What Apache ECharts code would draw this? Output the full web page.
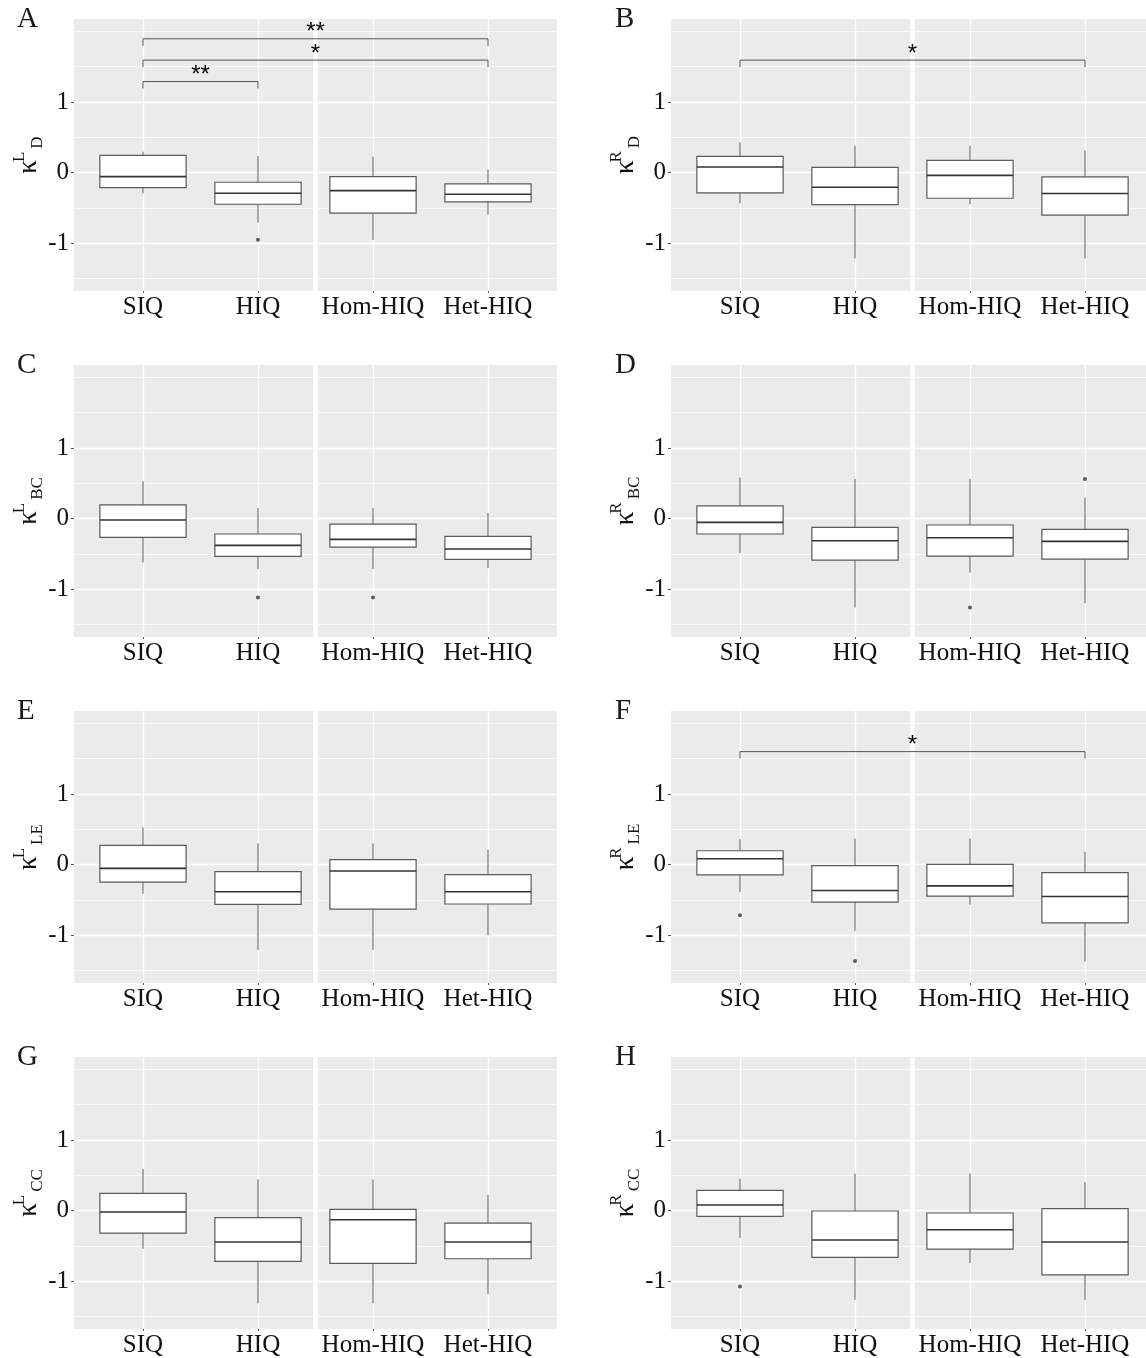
<!DOCTYPE html>
<html><head><meta charset="utf-8">
<script src="https://cdn.jsdelivr.net/npm/echarts@6/dist/echarts.min.js"></script>
<style>html,body{margin:0;padding:0;background:#fff;overflow:hidden}#c{width:1160px;height:1358px}</style>
</head><body><div id="c"></div><script>
// ---------------- data ----------------
const categories = ['SIQ', 'HIQ', 'Hom-HIQ', 'Het-HIQ'];
const yTicks = [-1, 0, 1];
const yMinorTicks = [-1.5, -0.5, 0.5, 1.5, 2];
const yRange = [-1.675, 2.175];
const panelLetters = ['A', 'B', 'C', 'D', 'E', 'F', 'G', 'H'];
const titleSup = ['L', 'R', 'L', 'R', 'L', 'R', 'L', 'R'];
const titleSub = ['D', 'D', 'BC', 'BC', 'LE', 'LE', 'CC', 'CC'];

// box stats per category: [lower whisker, Q1, median, Q3, upper whisker]
const boxA = [[-0.292, -0.212, -0.056, 0.245, 0.296], [-0.706, -0.447, -0.292, -0.136, 0.235], [-0.951, -0.574, -0.254, -0.056, 0.226], [-0.593, -0.414, -0.306, -0.160, 0.047]];
const boxB = [[-0.433, -0.287, 0.080, 0.231, 0.428], [-1.214, -0.452, -0.207, 0.075, 0.381], [-0.447, -0.362, -0.038, 0.174, 0.381], [-1.214, -0.602, -0.296, -0.061, 0.315]];
const boxC = [[-0.620, -0.265, -0.019, 0.194, 0.530], [-0.714, -0.534, -0.378, -0.217, 0.151], [-0.714, -0.402, -0.293, -0.076, 0.151], [-0.700, -0.577, -0.430, -0.250, 0.080]];
const boxD = [[-0.487, -0.217, -0.052, 0.180, 0.582], [-1.257, -0.586, -0.312, -0.123, 0.563], [-0.762, -0.530, -0.270, -0.090, 0.563], [-1.196, -0.572, -0.321, -0.151, 0.298]];
const boxE = [[-0.412, -0.248, -0.052, 0.272, 0.525], [-1.208, -0.562, -0.384, -0.098, 0.300], [-1.208, -0.628, -0.089, 0.070, 0.300], [-0.998, -0.557, -0.384, -0.140, 0.211]];
const boxF = [[-0.389, -0.145, 0.084, 0.197, 0.361], [-0.937, -0.529, -0.365, -0.014, 0.370], [-0.567, -0.445, -0.300, 0.005, 0.370], [-1.372, -0.824, -0.450, -0.112, 0.183]];
const boxG = [[-0.539, -0.317, -0.019, 0.246, 0.591], [-1.310, -0.719, -0.444, -0.099, 0.440], [-1.310, -0.747, -0.128, 0.019, 0.440], [-1.177, -0.681, -0.444, -0.175, 0.222]];
const boxH = [[-0.388, -0.080, 0.080, 0.288, 0.454], [-1.262, -0.662, -0.416, -0.005, 0.525], [-0.742, -0.544, -0.270, -0.033, 0.525], [-1.262, -0.908, -0.444, 0.028, 0.402]];

// outliers: [category number (1-based), value]
const outA = [[2, -0.951]];
const outB = [];
const outC = [[2, -1.116], [3, -1.116]];
const outD = [[3, -1.257], [4, 0.563]];
const outE = [];
const outF = [[1, -0.717], [2, -1.363]];
const outG = [];
const outH = [[1, -1.073]];

// significance brackets: [from category, to category, height, label]
const sigA = [[1, 4, 1.895, '**'], [1, 4, 1.593, '*'], [1, 2, 1.29, '**']];
const sigB = [[1, 4, 1.593, '*']];
const sigF = [[1, 4, 1.60, '*']];

const separatorAt = 2.5;

// ---------------- layout ----------------
const boxes = [boxA, boxB, boxC, boxD, boxE, boxF, boxG, boxH];
const outliers = [outA, outB, outC, outD, outE, outF, outG, outH];
const sigs = [sigA, sigB, [], [], [], sigF, [], []];

const colLeft = [74, 671];
const rowTop = [19, 365, 711, 1057];
const gridW = 483, gridH = 272;
const serif = '"Liberation Serif", "Times New Roman", serif';
const catPos = categories.map((c, i) => i + 1);

const mctx = document.createElement('canvas').getContext('2d');
function tw(t, f) { mctx.font = f; return mctx.measureText(t).width; }

const grids = [], xAxes = [], yAxes = [], series = [], graphics = [];

function renderBox(params, api) {
  const x = api.value(0);
  const lo = api.coord([x, api.value(1)]);
  const q1 = api.coord([x, api.value(2)]);
  const md = api.coord([x, api.value(3)]);
  const q3 = api.coord([x, api.value(4)]);
  const hi = api.coord([x, api.value(5)]);
  const w = api.size([0.75, 0])[0];
  const c = '#5a5a5a';
  return {
    type: 'group', children: [
      { type: 'line', shape: { x1: hi[0], y1: hi[1], x2: q3[0], y2: q3[1] }, style: { stroke: c, lineWidth: 1 } },
      { type: 'line', shape: { x1: q1[0], y1: q1[1], x2: lo[0], y2: lo[1] }, style: { stroke: c, lineWidth: 1 } },
      { type: 'rect', shape: { x: q3[0] - w / 2, y: q3[1], width: w, height: q1[1] - q3[1] }, style: { fill: '#ffffff', stroke: c, lineWidth: 1.2 } },
      { type: 'line', shape: { x1: md[0] - w / 2, y1: md[1], x2: md[0] + w / 2, y2: md[1] }, style: { stroke: '#333333', lineWidth: 1.6 } }
    ]
  };
}

function makeBracketRenderer(list) {
  return function (params, api) {
    const item = list[params.dataIndex];
    const a = api.coord([api.value(0), api.value(2)]);
    const b = api.coord([api.value(1), api.value(2)]);
    const tip = 7;
    return {
      type: 'group', children: [
        { type: 'polyline', shape: { points: [[a[0], a[1] + tip], [a[0], a[1]], [b[0], b[1]], [b[0], b[1] + tip]] }, style: { stroke: '#555555', lineWidth: 1, fill: null } },
        { type: 'text', x: (a[0] + b[0]) / 2, y: a[1] - 6, style: { text: item[3], font: '24px "Liberation Sans", Arial, sans-serif', fill: '#000', align: 'center', verticalAlign: 'middle', textAlign: 'center', textVerticalAlign: 'middle' } }
      ]
    };
  };
}

for (let i = 0; i < 8; i++) {
  const col = i % 2, row = Math.floor(i / 2);
  const gl = colLeft[col], gt = rowTop[row];
  grids.push({ left: gl, top: gt, width: gridW, height: gridH, show: true, backgroundColor: '#EBEBEB', borderWidth: 0, outerBoundsMode: 'none', containLabel: false });
  xAxes.push({
    gridIndex: i, type: 'value', min: 0.4, max: 4.6, position: 'bottom',
    axisLine: { show: false, onZero: false },
    axisTick: { show: true, length: 2, customValues: catPos, lineStyle: { color: '#555', width: 1 } },
    axisLabel: { customValues: catPos, formatter: v => categories[Math.round(v) - 1], fontFamily: serif, fontSize: 25, color: '#111', margin: 4 },
    splitLine: { show: true, lineStyle: { color: '#ffffff', width: 1.3 } }
  });
  yAxes.push({
    gridIndex: i, type: 'value', min: yRange[0], max: yRange[1], position: 'left',
    axisLine: { show: false, onZero: false },
    axisTick: { show: true, length: 3, customValues: yTicks, lineStyle: { color: '#555', width: 1 } },
    axisLabel: { customValues: yTicks, formatter: v => String(v), fontFamily: serif, fontSize: 25, color: '#111', margin: 5 },
    splitLine: { show: true, lineStyle: { color: '#ffffff', width: 1.3 } }
  });
  yAxes.push({
    gridIndex: i, type: 'value', min: yRange[0], max: yRange[1], position: 'right',
    axisLine: { show: false, onZero: false },
    axisTick: { show: false, customValues: yMinorTicks },
    axisLabel: { show: false, customValues: yMinorTicks },
    splitLine: { show: true, lineStyle: { color: '#ffffff', width: 0.7 } }
  });

  series.push({
    type: 'custom', xAxisIndex: i, yAxisIndex: i * 2, z: 3,
    renderItem: renderBox,
    data: boxes[i].map((s, k) => [catPos[k]].concat(s)),
    markLine: {
      silent: true, symbol: ['none', 'none'], label: { show: false }, animation: false,
      lineStyle: { color: '#ffffff', width: 4.5, type: 'solid' },
      data: [{ xAxis: separatorAt }]
    }
  });
  if (outliers[i].length) {
    series.push({
      type: 'scatter', xAxisIndex: i, yAxisIndex: i * 2, z: 4,
      symbol: 'circle', symbolSize: 4, itemStyle: { color: '#333333' },
      data: outliers[i]
    });
  }
  if (sigs[i].length) {
    series.push({
      type: 'custom', xAxisIndex: i, yAxisIndex: i * 2, z: 10,
      renderItem: makeBracketRenderer(sigs[i]),
      data: sigs[i].map(s => [s[0], s[1], s[2]])
    });
  }

  // panel letter
  graphics.push({ type: 'text', left: col ? 615 : 17, top: gt - 14, style: { text: panelLetters[i], font: '29px ' + serif, fill: '#1a1a1a' } });

  // y-axis title  κ^sup_sub (rotated)
  const kFont = '27px ' + serif, sFont = '17px ' + serif;
  const kw = tw('κ', kFont), supw = tw(titleSup[i], sFont), subw = tw(titleSub[i], sFont);
  const supStart = kw - 2, subStart = supStart + supw + 3;
  const total = subStart + subw;
  const ox = gl - 36, oy = gt + gridH / 2 + total / 2;
  graphics.push({
    type: 'group', x: ox, y: oy, rotation: Math.PI / 2,
    children: [
      { type: 'text', x: 0, y: -0.34 * 27, style: { text: 'κ', font: kFont, fill: '#111', align: 'left', verticalAlign: 'middle', textAlign: 'left', textVerticalAlign: 'middle' } },
      { type: 'text', x: supStart, y: -13 - 0.34 * 17, style: { text: titleSup[i], font: sFont, fill: '#111', align: 'left', verticalAlign: 'middle', textAlign: 'left', textVerticalAlign: 'middle' } },
      { type: 'text', x: subStart, y: 5 - 0.34 * 17, style: { text: titleSub[i], font: sFont, fill: '#111', align: 'left', verticalAlign: 'middle', textAlign: 'left', textVerticalAlign: 'middle' } }
    ]
  });
}

const chart = echarts.init(document.getElementById('c'), null, { renderer: 'canvas' });
chart.setOption({
  animation: false,
  backgroundColor: '#ffffff',
  grid: grids, xAxis: xAxes, yAxis: yAxes, series: series, graphic: graphics
});
</script></body></html>
